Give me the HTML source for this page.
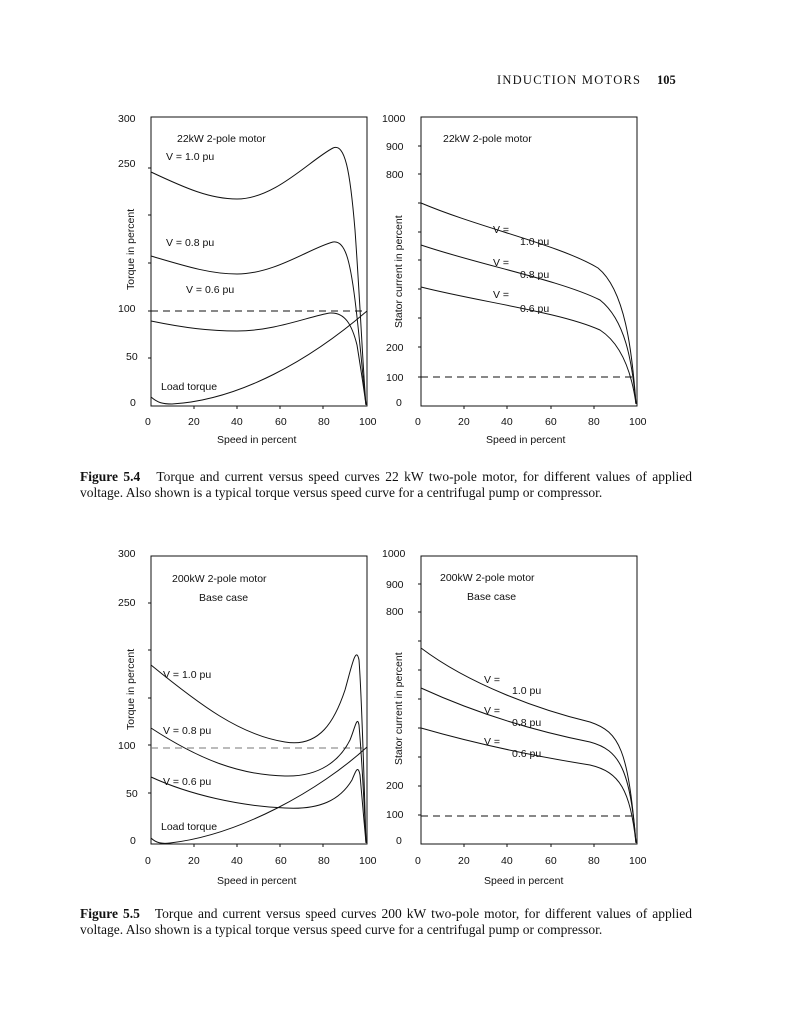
<!DOCTYPE html>
<html><head><meta charset="utf-8"><style>
body{margin:0;background:#fff;}
.cap{position:absolute;left:80px;width:612px;font-family:"Liberation Serif",serif;font-size:13.5px;line-height:16px;color:#111;text-align:justify;}
</style></head><body>
<div style="position:relative;width:786px;height:1024px;overflow:hidden;background:#fff">
<svg width="786" height="1024" style="position:absolute;left:0;top:0" font-family="Liberation Sans, sans-serif" fill="none" stroke="#111" stroke-width="1">
<text x="497" y="84" font-family="Liberation Serif, serif" font-size="12.5" fill="#111" stroke="none" textLength="143">INDUCTION MOTORS</text>
<text x="657" y="84" font-family="Liberation Serif, serif" font-size="12.5" font-weight="bold" fill="#111" stroke="none">105</text>

<!-- Fig 5.4 left -->
<rect x="151" y="117" width="216" height="289"/>
<g stroke-width="1">
<path d="M148,168h3M148,215h3M148,263h3M148,311h3M148,358h3M194,406v3M237,406v3M280,406v3M323,406v3"/>
</g>
<g fill="#111" stroke="none" font-size="10.5">
<text x="118" y="122">300</text><text x="118" y="167">250</text><text x="118" y="312">100</text><text x="126" y="360">50</text><text x="130" y="406">0</text>
<text x="145" y="425">0</text><text x="188" y="425">20</text><text x="231" y="425">40</text><text x="275" y="425">60</text><text x="318" y="425">80</text><text x="359" y="425">100</text>
<text x="217" y="443">Speed in percent</text>
<text x="134" y="290" transform="rotate(-90 134 290)">Torque in percent</text>
<text x="177" y="142">22kW 2-pole motor</text>
<text x="166" y="160">V = 1.0 pu</text>
<text x="166" y="246">V = 0.8 pu</text>
<text x="186" y="293">V = 0.6 pu</text>
<text x="161" y="390">Load torque</text>
</g>
<path d="M151,311H367" stroke-dasharray="7,5"/>
<path d="M151,172C185,188 210,199 237,199C275,199 310,160 333,148C345,143 350,170 355,230C360,300 363,370 366,405"/>
<path d="M151,256C185,266 210,274 237,274C275,274 310,248 333,242C345,240 350,260 355,300C360,340 363,380 366,405"/>
<path d="M151,321C185,328 210,331 237,331C275,331 310,316 330,313C345,312 352,325 357,345C361,370 364,390 366,405"/>
<path d="M151,397C158,403 163,404 172,404C240,400 310,360 367,311"/>

<!-- Fig 5.4 right -->
<rect x="421" y="117" width="216" height="289"/>
<path d="M418,146h3M418,174h3M418,203h3M418,232h3M418,260h3M418,289h3M418,318h3M418,347h3M418,377h3M464,406v3M507,406v3M551,406v3M594,406v3"/>
<g fill="#111" stroke="none" font-size="10.5">
<text x="382" y="122">1000</text><text x="386" y="150">900</text><text x="386" y="178">800</text><text x="386" y="351">200</text><text x="386" y="381">100</text><text x="396" y="406">0</text>
<text x="415" y="425">0</text><text x="458" y="425">20</text><text x="501" y="425">40</text><text x="545" y="425">60</text><text x="588" y="425">80</text><text x="629" y="425">100</text>
<text x="486" y="443">Speed in percent</text>
<text x="402" y="328" transform="rotate(-90 402 328)">Stator current in percent</text>
<text x="443" y="142">22kW 2-pole motor</text>
<text x="493" y="233">V =</text><text x="520" y="245">1.0 pu</text>
<text x="493" y="266">V =</text><text x="520" y="278">0.8 pu</text>
<text x="493" y="298">V =</text><text x="520" y="312">0.6 pu</text>
</g>
<path d="M421,377H637" stroke-dasharray="7,5"/>
<path d="M421,203C480,228 560,245 598,268C625,290 632,350 636,404"/>
<path d="M421,245C480,265 560,280 600,300C625,320 632,360 636,404"/>
<path d="M421,287C480,302 560,312 600,330C623,345 632,375 636,404"/>

<!-- Fig 5.5 left -->
<rect x="151" y="556" width="216" height="288"/>
<path d="M148,603h3M148,650h3M148,698h3M148,745h3M148,793h3M194,844v3M237,844v3M280,844v3M323,844v3"/>
<g fill="#111" stroke="none" font-size="10.5">
<text x="118" y="557">300</text><text x="118" y="606">250</text><text x="118" y="749">100</text><text x="126" y="797">50</text><text x="130" y="844">0</text>
<text x="145" y="864">0</text><text x="188" y="864">20</text><text x="231" y="864">40</text><text x="275" y="864">60</text><text x="318" y="864">80</text><text x="359" y="864">100</text>
<text x="217" y="884">Speed in percent</text>
<text x="134" y="730" transform="rotate(-90 134 730)">Torque in percent</text>
<text x="172" y="582">200kW 2-pole motor</text>
<text x="199" y="601">Base case</text>
<text x="163" y="678">V = 1.0 pu</text>
<text x="163" y="734">V = 0.8 pu</text>
<text x="163" y="785">V = 0.6 pu</text>
<text x="161" y="830">Load torque</text>
</g>
<path d="M151,748H367" stroke-dasharray="7,5" stroke="#777"/>
<path d="M151,665C200,705 240,735 285,742C320,748 335,720 345,690C352,665 356,645 359,660C362,700 364,780 366,843"/>
<path d="M151,728C200,760 240,775 285,776C320,777 340,760 350,740C355,728 357,715 359,725C362,760 364,800 366,843"/>
<path d="M151,777C190,795 240,806 285,808C320,810 340,800 352,780C356,770 358,765 360,775C362,800 364,820 366,843"/>
<path d="M151,838C156,843 162,844 170,843C240,835 320,790 367,747"/>

<!-- Fig 5.5 right -->
<rect x="421" y="556" width="216" height="288"/>
<path d="M418,584h3M418,612h3M418,641h3M418,670h3M418,699h3M418,728h3M418,757h3M418,786h3M418,815h3M464,844v3M507,844v3M551,844v3M594,844v3"/>
<g fill="#111" stroke="none" font-size="10.5">
<text x="382" y="557">1000</text><text x="386" y="588">900</text><text x="386" y="615">800</text><text x="386" y="789">200</text><text x="386" y="818">100</text><text x="396" y="844">0</text>
<text x="415" y="864">0</text><text x="458" y="864">20</text><text x="501" y="864">40</text><text x="545" y="864">60</text><text x="588" y="864">80</text><text x="629" y="864">100</text>
<text x="484" y="884">Speed in percent</text>
<text x="402" y="765" transform="rotate(-90 402 765)">Stator current in percent</text>
<text x="440" y="581">200kW 2-pole motor</text>
<text x="467" y="600">Base case</text>
<text x="484" y="683">V =</text><text x="512" y="694">1.0 pu</text>
<text x="484" y="714">V =</text><text x="512" y="726">0.8 pu</text>
<text x="484" y="745">V =</text><text x="512" y="757">0.6 pu</text>
</g>
<path d="M421,816H637" stroke-dasharray="7,5"/>
<path d="M421,648C470,685 540,710 590,722C620,732 628,750 636,843"/>
<path d="M421,688C480,715 540,732 590,742C620,750 630,770 636,843"/>
<path d="M421,728C480,745 540,757 590,765C620,772 630,790 636,843"/>
</svg>
<div class="cap" style="top:469px"><b>Figure 5.4</b>&nbsp;&nbsp; Torque and current versus speed curves 22 kW two-pole motor, for different values of applied voltage. Also shown is a typical torque versus speed curve for a centrifugal pump or compressor.</div>
<div class="cap" style="top:906px"><b>Figure 5.5</b>&nbsp;&nbsp; Torque and current versus speed curves 200 kW two-pole motor, for different values of applied voltage. Also shown is a typical torque versus speed curve for a centrifugal pump or compressor.</div>
</div>
</body></html>
